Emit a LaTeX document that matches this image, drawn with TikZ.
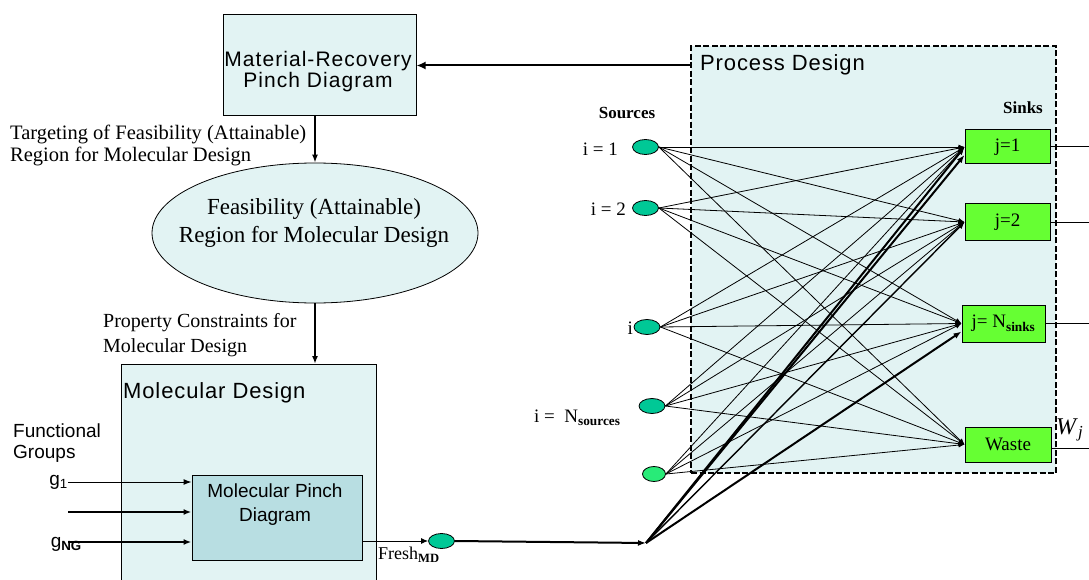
\documentclass[tikz,border=0pt]{standalone}
\usepackage{fontspec}
\setmainfont{Liberation Serif}
\setsansfont{Liberation Sans}
\usetikzlibrary{arrows.meta,shapes.geometric}
\definecolor{lc}{RGB}{226,243,243}
\definecolor{ic}{RGB}{184,222,226}
\definecolor{srcc}{RGB}{0,200,150}
\definecolor{srcl}{RGB}{40,235,120}
\definecolor{snk}{RGB}{102,255,51}
\begin{document}
\begin{tikzpicture}[x=1pt,y=-1pt,
  box/.style={draw, line width=1pt, fill=lc, inner sep=0pt},
  pbox/.style={draw, fill=lc, line width=2.4pt, dash pattern=on 6pt off 2.5pt, inner sep=0pt},
  src/.style={ellipse, draw, fill=srcc, minimum width=26pt, minimum height=15pt, inner sep=0pt, line width=0.8pt},
  sink/.style={draw, fill=snk, line width=1pt, inner sep=0pt, font=\fontsize{19}{20}\selectfont},
  conn/.style={line width=0.8pt, -{Latex[length=6pt,width=5pt]}},
  bold arrow/.style={line width=2pt, -{Latex[length=8pt,width=6pt]}},
  lab/.style={inner sep=0pt, align=left, font=\fontsize{20}{24}\selectfont},
  stitle/.style={inner sep=0pt, font=\sffamily\addfontfeature{LetterSpace=4}\fontsize{22}{24}\selectfont},
  slab/.style={inner sep=0pt, font=\fontsize{19}{20}\selectfont},
  hdr/.style={inner sep=0pt, font=\bfseries\fontsize{17}{18}\selectfont}
]
\useasboundingbox (0,0) rectangle (1089,580);
\clip (0,0) rectangle (1089,580);

% Process design
\node[pbox, anchor=north west, minimum width=365pt, minimum height=427pt] (pd) at (690,45) {};
\node[stitle, anchor=west] (pdt) at (700,65) {Process Design};
\node[hdr] (srch) at (627,113) {Sources};
\node[hdr] (snkh) at (1023,108) {Sinks};

% Material-recovery pinch diagram
\node[box, minimum width=193pt, minimum height=101pt] (mrpd) at (319.5,65.5) {};
\node[inner sep=0pt, align=center, font=\sffamily\addfontfeature{LetterSpace=5}\fontsize{21}{21}\selectfont] (mrpdt) at (318,72) {Material-Recovery\\Pinch Diagram};
\draw[line width=2pt, -{Latex[length=9pt,width=8pt]}] (pd.north west |- mrpd.east) -- (mrpd.east);

% Feasibility ellipse
\node[ellipse, draw, fill=lc, minimum width=326pt, minimum height=140pt, line width=0.8pt] (fe) at (315,233) {};
\node[inner sep=0pt, align=center, font=\fontsize{23}{28}\selectfont] (fet) at (314,223) {Feasibility (Attainable)\\Region for Molecular Design};
\draw[bold arrow] (fe.north |- mrpd.south) -- (fe.north);
\node[lab, anchor=north west, font=\fontsize{20.5}{22}\selectfont] (tlab) at (10,125) {Targeting of Feasibility (Attainable)\\Region for Molecular Design};

% Molecular design
\node[box, anchor=north west, minimum width=255pt, minimum height=240pt] (md) at (121,364) {};
\draw[bold arrow] (fe.south) -- (fe.south |- md.north);
\node[lab, anchor=north west, font=\fontsize{20}{25}\selectfont] (plab) at (103,313) {Property Constraints for\\Molecular Design};
\node[stitle, anchor=west] (mdt) at (123,393) {Molecular Design};
\node[inner sep=0pt, anchor=north west, align=left, font=\sffamily\fontsize{19}{21}\selectfont] (fg) at (13,424) {Functional\\Groups};

\node[draw, fill=ic, line width=1pt, minimum width=170pt, minimum height=85pt, inner sep=0pt] (mpd) at (277,517.5) {};
\node[inner sep=0pt, align=center, font=\sffamily\fontsize{19}{24}\selectfont] (mpdt) at (275,505) {Molecular Pinch\\Diagram};

\coordinate (g1) at (68,482);
\coordinate (g2) at (68,512);
\coordinate (g3) at (68,542);
\draw[line width=1pt, -{Latex[length=8pt,width=6pt]}] (g1) -- (g1 -| mpd.west);
\draw[bold arrow] (g2) -- (g2 -| mpd.west);
\draw[bold arrow] (g3) -- (g3 -| mpd.west);
\node[inner sep=0pt, anchor=east, font=\sffamily\fontsize{19}{20}\selectfont] (g1l) at (68,482) {g\textsubscript{1}};
\node[inner sep=0pt, anchor=east, font=\sffamily\fontsize{19}{20}\selectfont] (g3l) at (82,544) {g\textsubscript{\textbf{NG}}};

% fresh source
\node[src] (fr) at (441.5,541) {};
\draw[line width=1pt, -{Latex[length=7pt,width=6pt]}] (mpd.east |- fr.west) -- (fr.west);
\node[inner sep=0pt, anchor=north west, font=\fontsize{18}{20}\selectfont] (frl) at (378,547) {Fresh\textsubscript{\textbf{MD}}};
\coordinate (hub) at (646,543);
\draw[bold arrow] (fr.east) -- (hub);

% sources
\node[src] (s1) at (645.5,147) {};
\node[src] (s2) at (645.5,208) {};
\node[src] (si) at (647,327) {};
\node[src] (sN) at (652,406) {};
\node[src, fill=srcl, minimum width=23pt] (s5) at (654,474) {};
\node[slab, anchor=east] (l1) at (618,149) {i = 1};
\node[slab, anchor=east] (l2) at (626,209) {i = 2};
\node[slab, anchor=east] (li) at (633,328) {i};
\node[slab, anchor=west] (lN) at (534,418) {i =\ \ N\textsubscript{\textbf{sources}}};

% sinks
\node[sink, minimum width=85pt, minimum height=34pt] (k1) at (1007.5,147) {j=1};
\node[sink, minimum width=85pt, minimum height=36pt] (k2) at (1007.5,222) {j=2};
\node[sink, minimum width=83pt, minimum height=37pt] (kN) at (1003.5,323.5) {j= N\textsubscript{\textbf{sinks}}};
\node[sink, minimum width=86pt, minimum height=35pt, text depth=0pt] (kw) at (1008,444.5) {Waste};

% all source-sink connections
\foreach \s in {s1,s2,si,sN,s5}
  \foreach \k in {k1,k2,kN,kw}
    \draw[conn] (\s.east) -- (\k.west);

% fresh fan-out
\draw[bold arrow] (hub) -- (k1.west);
\draw[bold arrow] (hub) -- ([yshift=-8pt]k1.west);
\draw[line width=1.4pt, -{Latex[length=7pt,width=6pt]}] (hub) -- (k2.west);
\draw[bold arrow] (hub) -- ([yshift=-8pt]kN.west);

% outputs
\coordinate (e1) at (1095,146);
\draw[line width=1pt] (k1.east) -- (k1.east -| e1);
\draw[line width=1pt] (k2.east) -- (k2.east -| e1);
\draw[line width=1pt] (kN.east) -- (kN.east -| e1);
\draw[line width=1pt] ([yshift=-4pt]kw.east) -- ([yshift=-4pt]kw.east -| e1);
\node[inner sep=0pt, anchor=west, font=\fontsize{24}{24}\selectfont] (wl) at (1056,430) {\textit{W}\textsubscript{\textit{j}}};
\end{tikzpicture}
\end{document}
